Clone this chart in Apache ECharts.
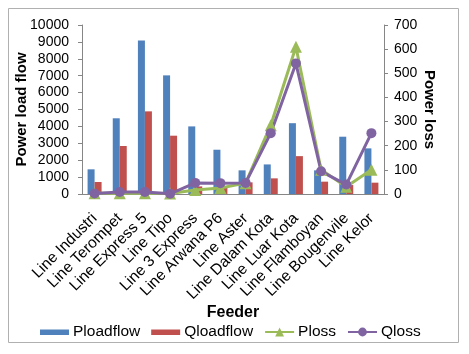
<!DOCTYPE html>
<html>
<head>
<meta charset="utf-8">
<script src="https://cdn.jsdelivr.net/npm/echarts@6/dist/echarts.min.js"></script>
<style>
  html, body { margin: 0; padding: 0; background: #fff; }
  #chart { width: 469px; height: 354px; }
</style>
</head>
<body>
<div id="chart"></div>
<script>
var feeders = ['Line Industri', 'Line Terompet', 'Line Express 5', 'Line Tipo', 'Line 3 Express',
    'Line Arwana P6', 'Line Aster', 'Line Dalam Kota', 'Line Luar Kota', 'Line Flamboyan',
    'Line Bougenvile', 'Line Kelor'];
var ploadflow = [1460, 4480, 9090, 7020, 4000, 2620, 1400, 1750, 4190, 1400, 3390, 2700];
var qloadflow = [710, 2840, 4890, 3450, 450, 450, 690, 925, 2240, 730, 530, 670];
var ploss = [3, 3, 3, 2, 17, 25, 45, 285, 610, 100, 30, 100];
var qloss = [2, 8, 8, 1, 46, 45, 46, 252, 541, 94, 39, 252];

var chart = echarts.init(document.getElementById('chart'));
var font = 'Liberation Sans, Arial, sans-serif';
// rect icon for bar series, padded so it stays thin
var barIcon = 'path://M0,0h0.01v0.01h-0.01z M0,3h29v5.5h-29z M0,11h0.01v0.01h-0.01z';

var option = {
    animation: false,
    textStyle: { fontFamily: font },
    graphic: [{
        type: 'rect',
        shape: { x: 8.5, y: 8.5, width: 450, height: 334 },
        style: { fill: 'none', stroke: '#b0b0b0', lineWidth: 1 },
        z: -1
    }],
    grid: { left: 82, right: 85, top: 25, bottom: 160 },
    legend: {
        left: 35,
        top: 319,
        itemWidth: 29,
        itemHeight: 11,
        itemGap: 11,
        textStyle: { fontSize: 15.5, color: '#000', padding: [0, 0, 0, -1] },
        data: [
            { name: 'Ploadflow', icon: barIcon },
            { name: 'Qloadflow', icon: barIcon },
            { name: 'Ploss' },
            { name: 'Qloss' }
        ]
    },
    xAxis: {
        type: 'category',
        data: feeders,
        name: 'Feeder',
        nameLocation: 'middle',
        nameGap: 111,
        nameMoveOverlap: false,
        nameTextStyle: { fontSize: 16, fontWeight: 'bold', color: '#000' },
        axisLine: { lineStyle: { color: '#868686' } },
        axisTick: { show: false },
        axisLabel: { rotate: 45, fontSize: 15.5, color: '#000', margin: 22, interval: 0 }
    },
    yAxis: [{
        type: 'value',
        min: 0,
        max: 10000,
        interval: 1000,
        name: 'Power load flow',
        nameLocation: 'middle',
        nameGap: 53,
        nameMoveOverlap: false,
        nameTextStyle: { fontSize: 15, fontWeight: 'bold', color: '#000' },
        splitLine: { show: false },
        axisLine: { show: true, lineStyle: { color: '#868686' } },
        axisTick: { show: true, length: 4 },
        axisLabel: { fontSize: 14, color: '#000', margin: 13, formatter: function (v) { return String(v); } }
    }, {
        type: 'value',
        min: 0,
        max: 700,
        interval: 100,
        name: 'Power loss',
        nameLocation: 'middle',
        nameRotate: -90,
        nameGap: 38,
        nameMoveOverlap: false,
        nameTextStyle: { fontSize: 15, fontWeight: 'bold', color: '#000' },
        splitLine: { show: false },
        axisLine: { show: true, lineStyle: { color: '#868686' } },
        axisTick: { show: true, length: 4 },
        axisLabel: { fontSize: 14, color: '#000', margin: 10 }
    }],
    series: [{
        name: 'Ploadflow',
        type: 'bar',
        data: ploadflow,
        barWidth: 7,
        barGap: '0%',
        itemStyle: { color: '#4F81BD' }
    }, {
        name: 'Qloadflow',
        type: 'bar',
        data: qloadflow,
        barWidth: 7,
        barGap: '0%',
        itemStyle: { color: '#C0504D' }
    }, {
        name: 'Ploss',
        type: 'line',
        yAxisIndex: 1,
        data: ploss,
        symbol: 'triangle',
        symbolSize: 12,
        lineStyle: { color: '#9BBB59', width: 3 },
        itemStyle: { color: '#9BBB59' }
    }, {
        name: 'Qloss',
        type: 'line',
        yAxisIndex: 1,
        data: qloss,
        symbol: 'circle',
        symbolSize: 10,
        lineStyle: { color: '#8064A2', width: 3 },
        itemStyle: { color: '#8064A2' }
    }]
};
chart.setOption(option);
</script>
</body>
</html>
